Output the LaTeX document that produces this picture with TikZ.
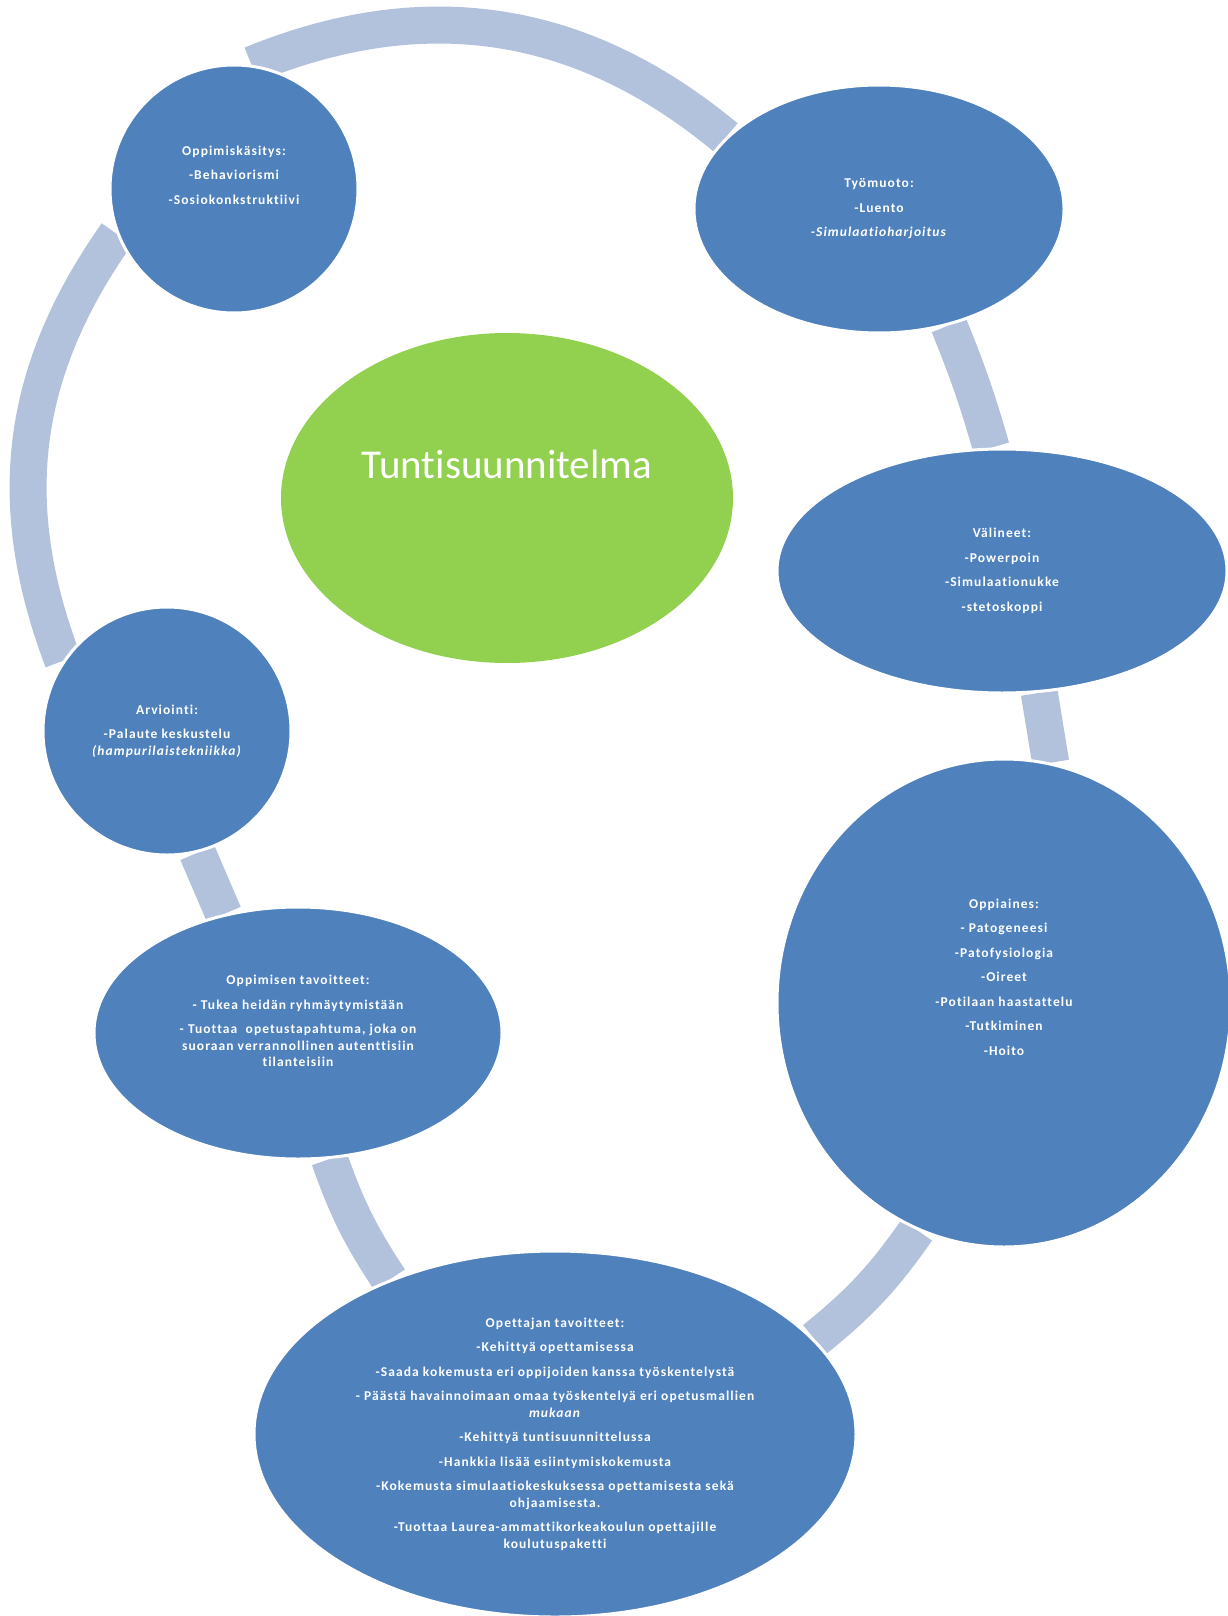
\documentclass[tikz,border=0pt]{standalone}
\usepackage{fontspec}
\setmainfont{Carlito}[Ligatures=CommonOff]
\newfontfamily\boxfont[LetterSpace=8, Ligatures=CommonOff]{Carlito}
\usetikzlibrary{shapes.geometric, positioning, backgrounds}

\definecolor{nodeblue}{HTML}{4F81BD}
\definecolor{bandblue}{HTML}{B3C2DC}
\definecolor{midgreen}{HTML}{92D050}

\tikzset{
  bubble/.style={circle, fill=nodeblue, draw=white, line width=3pt, minimum size=248pt, inner sep=0pt},
  oval/.style={ellipse, fill=nodeblue, draw=white, line width=3pt, inner sep=0pt},
  band/.style={draw=bandblue, line width=37pt},
  txt/.style={text=white, align=center, inner sep=0pt, font=\boxfont\bfseries\fontsize{13.5}{16.5}\selectfont}
}

\begin{document}
\begin{tikzpicture}[x=1pt, y=1pt]

\useasboundingbox (0,0) rectangle (1228,-1616);

% draw the circles and ovals
\node[bubble] (kasitys) at (234,-189) {};
\node[oval, minimum width=370pt, minimum height=248pt] (tyomuoto) at (879,-209) {};
\node[oval, minimum width=450pt, minimum height=244pt] (valineet) at (1002,-571) {};
\node[oval, minimum width=454pt, minimum height=488pt] (oppiaines) at (1004,-1003) {};
\node[oval, minimum width=602pt, minimum height=366pt] (opettajan) at (555,-1434) {};
\node[oval, minimum width=408pt, minimum height=252pt] (oppimisen) at (298,-1033) {};
\node[bubble] (arviointi) at (167,-731) {};
\node[ellipse, fill=midgreen, minimum width=452pt, minimum height=330pt] (tunti) at (507,-498) {};

% draw the bands between them
\begin{scope}[on background layer]
\fill[white] (0,0) rectangle (1228,-1616);
\draw[band] (kasitys.82) to[bend left=31] (tyomuoto.155);
\draw[band] (tyomuoto.-59) to[bend left=3] (valineet.95);
\draw[band] (valineet.-73) to (oppiaines.79);
\draw[band] (oppiaines.-111) to[bend left=8] (opettajan.20);
\draw[band] (opettajan.137) to[bend left=7] (oppimisen.-76);
\draw[band] (oppimisen.122) to (arviointi.-76);
\draw[band] (arviointi.146) to[bend left=28] (kasitys.201);
\end{scope}

% texts
\node[text=white, font=\fontsize{41}{41}\selectfont] (tunti-t) at ([yshift=34pt]tunti.center) {Tuntisuunnitelma};

\node[txt] (kasitys-t) at ([yshift=14pt]kasitys.center)
  {Oppimiskäsitys:\\[8pt] -Behaviorismi\\[8pt] -Sosiokonkstruktiivi};

\node[txt] (tyomuoto-t) at (tyomuoto.center)
  {Työmuoto:\\[8pt] -Luento\\[8pt] \textit{-Simulaatioharjoitus}};

\node[txt] (valineet-t) at (valineet.center)
  {Välineet:\\[8pt] -Powerpoin\\[8pt] -Simulaationukke\\[8pt] -stetoskoppi};

\node[txt] (oppiaines-t) at ([yshift=26pt]oppiaines.center)
  {Oppiaines:\\[8pt] - Patogeneesi\\[8pt] -Patofysiologia\\[8pt] -Oireet\\[8pt]
   -Potilaan haastattelu\\[8pt] -Tutkiminen\\[8pt] -Hoito};

\node[txt] (arviointi-t) at (arviointi.center)
  {Arviointi:\\[8pt] -Palaute keskustelu\\ \textit{(hampurilaistekniikka)}};

\node[txt] (oppimisen-t) at ([yshift=12pt]oppimisen.center)
  {Oppimisen tavoitteet:\\[8pt] - Tukea heidän ryhmäytymistään\\[8pt]
   - Tuottaa~ opetustapahtuma, joka on\\ suoraan verrannollinen autenttisiin\\ tilanteisiin};

\node[txt] (opettajan-t) at (opettajan.center)
  {Opettajan tavoitteet:\\[8pt] -Kehittyä opettamisessa\\[8pt]
   -Saada kokemusta eri oppijoiden kanssa työskentelystä\\[8pt]
   - Päästä havainnoimaan omaa työskentelyä eri opetusmallien\\ \textit{mukaan}\\[8pt]
   -Kehittyä tuntisuunnittelussa\\[8pt]
   -Hankkia lisää esiintymiskokemusta\\[8pt]
   -Kokemusta simulaatiokeskuksessa opettamisesta sekä\\ ohjaamisesta.\\[8pt]
   -Tuottaa Laurea-ammattikorkeakoulun opettajille\\ koulutuspaketti};

\end{tikzpicture}
\end{document}
